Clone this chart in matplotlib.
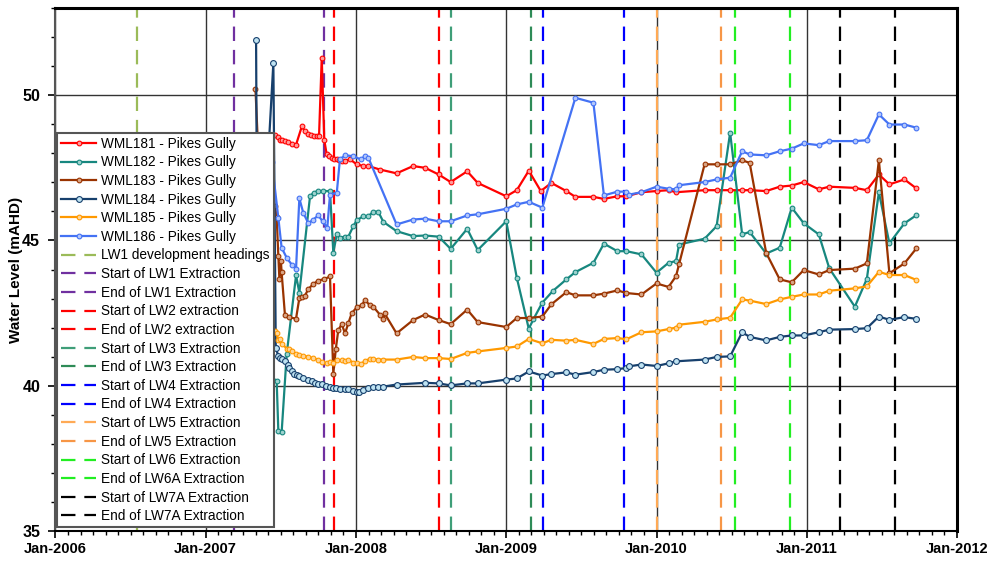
import numpy as np
import matplotlib.pyplot as plt
from matplotlib.ticker import MultipleLocator, FixedLocator, FuncFormatter

plt.rcParams['font.family'] = ['Liberation Sans', 'DejaVu Sans']

# ---- data (decimal years, water level mAHD) ----
wml181_t = [2007.36, 2007.40, 2007.44, 2007.461, 2007.48, 2007.494, 2007.51, 2007.53, 2007.55, 2007.575, 2007.60,
            2007.64, 2007.66, 2007.68, 2007.70, 2007.72, 2007.74, 2007.754, 2007.772, 2007.789, 2007.805, 2007.82,
            2007.838, 2007.855, 2007.872, 2007.89, 2007.905, 2007.93, 2007.96, 2008.005, 2008.049, 2008.082, 2008.16,
            2008.27, 2008.38, 2008.46, 2008.55, 2008.63, 2008.74, 2008.81, 2009.00, 2009.07, 2009.15, 2009.23, 2009.30,
            2009.40, 2009.46, 2009.58, 2009.65, 2009.74, 2009.80, 2009.90, 2010.00, 2010.08, 2010.13, 2010.32, 2010.40,
            2010.49, 2010.57, 2010.62, 2010.73, 2010.82, 2010.90, 2010.98, 2011.08, 2011.15, 2011.32, 2011.40, 2011.48,
            2011.55, 2011.65, 2011.73]
wml181_v = [48.55, 48.5, 48.58, 48.64, 48.55, 48.47, 48.46, 48.42, 48.38, 48.33, 48.28,
            48.93, 48.75, 48.68, 48.62, 48.60, 48.60, 48.59, 51.29, 48.45, 47.96, 47.9,
            47.85, 47.82, 47.79, 47.76, 47.73, 47.75, 47.79, 47.62, 47.56, 47.56, 47.44,
            47.31, 47.56, 47.50, 47.27, 47.01, 47.38, 46.98, 46.52, 46.73, 47.40, 46.70, 46.98,
            46.70, 46.50, 46.50, 46.43, 46.52, 46.52, 46.66, 46.70, 46.73, 46.66, 46.73, 46.73,
            46.73, 46.73, 46.73, 46.70, 46.85, 46.89, 47.01, 46.76, 46.85, 46.81, 46.73, 47.27,
            46.93, 47.10, 46.79]

wml182_t = [2007.38, 2007.472, 2007.483, 2007.505, 2007.539, 2007.601, 2007.623, 2007.694, 2007.72, 2007.749,
            2007.778, 2007.827, 2007.849, 2007.872, 2007.893, 2007.927, 2007.949, 2007.982, 2008.005, 2008.049,
            2008.082, 2008.115, 2008.148, 2008.182, 2008.27, 2008.38, 2008.46, 2008.55, 2008.63, 2008.74, 2008.81,
            2009.00, 2009.07, 2009.15, 2009.18, 2009.24, 2009.31, 2009.40, 2009.46, 2009.58, 2009.65, 2009.74,
            2009.80, 2009.90, 2010.00, 2010.08, 2010.13, 2010.15, 2010.32, 2010.40, 2010.49, 2010.57, 2010.62,
            2010.73, 2010.82, 2010.90, 2010.98, 2011.08, 2011.15, 2011.32, 2011.40, 2011.48, 2011.55, 2011.65, 2011.73]
wml182_v = [40.5, 40.17, 38.45, 38.39, 41.1, 43.8, 43.2, 46.52, 46.65, 46.7,
            46.7, 46.7, 44.58, 45.21, 45.10, 45.13, 45.13, 45.49, 45.7, 45.83,
            45.83, 45.99, 45.99, 45.64, 45.32, 45.15, 45.17, 45.13, 44.71, 45.40, 44.67,
            45.66, 43.72, 41.96, 42.28, 42.86, 43.26, 43.66, 43.91, 44.23, 44.89, 44.63,
            44.63, 44.52, 43.89, 44.23, 44.29, 44.86, 45.06, 45.49, 48.71, 45.21, 45.29,
            44.55, 44.75, 46.13, 45.59, 45.21, 44.04, 42.72, 43.68, 46.66, 44.90, 45.59, 45.87]

wml183_t = [2007.331, 2007.38, 2007.461, 2007.472, 2007.483, 2007.49, 2007.50, 2007.505, 2007.527, 2007.556,
            2007.601, 2007.623, 2007.639, 2007.66, 2007.683, 2007.716, 2007.749, 2007.789, 2007.827, 2007.849,
            2007.866, 2007.882, 2007.905, 2007.927, 2007.949, 2007.971, 2008.005, 2008.04, 2008.06, 2008.09,
            2008.115, 2008.16, 2008.182, 2008.19, 2008.27, 2008.38, 2008.46, 2008.55, 2008.63, 2008.74, 2008.81,
            2009.00, 2009.07, 2009.15, 2009.24, 2009.30, 2009.40, 2009.46, 2009.58, 2009.65, 2009.74, 2009.80,
            2009.90, 2010.00, 2010.08, 2010.13, 2010.15, 2010.32, 2010.40, 2010.49, 2010.57, 2010.62, 2010.73,
            2010.82, 2010.90, 2010.98, 2011.08, 2011.15, 2011.32, 2011.40, 2011.48, 2011.55, 2011.65, 2011.73]
wml183_v = [50.2, 44.5, 46.18, 45.8, 44.48, 43.68, 44.3, 43.9, 42.44, 42.35,
            42.31, 43.02, 43.07, 43.1, 43.33, 43.5, 43.62, 43.67, 43.76, 40.42,
            41.28, 41.91, 42.12, 41.80, 42.15, 42.49, 42.70, 42.78, 42.95, 42.78,
            42.72, 42.44, 42.28, 42.49, 41.80, 42.26, 42.45, 42.26, 42.12, 42.62, 42.19,
            42.02, 42.33, 42.33, 42.38, 42.80, 43.22, 43.11, 43.11, 43.17, 43.28, 43.19,
            43.14, 43.52, 43.40, 43.77, 44.18, 47.62, 47.62, 47.62, 47.76, 47.67, 44.57,
            43.66, 43.56, 43.98, 43.83, 43.98, 44.03, 44.21, 47.76, 43.87, 44.21, 44.73]

wml184_t = [2007.335, 2007.345, 2007.45, 2007.466, 2007.483, 2007.494, 2007.505, 2007.527, 2007.545, 2007.556,
            2007.572, 2007.59, 2007.61, 2007.623, 2007.65, 2007.683, 2007.705, 2007.73, 2007.749, 2007.772,
            2007.80, 2007.827, 2007.849, 2007.87, 2007.893, 2007.927, 2007.949, 2007.982, 2008.005, 2008.02,
            2008.049, 2008.082, 2008.115, 2008.148, 2008.182, 2008.27, 2008.46, 2008.55, 2008.63, 2008.74, 2008.81,
            2009.00, 2009.07, 2009.15, 2009.24, 2009.30, 2009.40, 2009.46, 2009.58, 2009.65, 2009.74, 2009.80,
            2009.82, 2009.90, 2010.00, 2010.08, 2010.13, 2010.32, 2010.40, 2010.49, 2010.57, 2010.62, 2010.73,
            2010.82, 2010.90, 2010.98, 2011.08, 2011.15, 2011.32, 2011.40, 2011.48, 2011.55, 2011.65, 2011.73]
wml184_v = [51.89, 41.3, 51.11, 41.31, 41.02, 40.95, 40.91, 40.85, 40.7, 40.62,
            40.5, 40.42, 40.37, 40.33, 40.25, 40.21, 40.16, 40.1, 40.07, 40.05,
            40.0, 39.95, 39.92, 39.93, 39.90, 39.88, 39.87, 39.81, 39.78, 39.80,
            39.84, 39.92, 39.95, 39.97, 39.97, 40.04, 40.10, 40.08, 40.01, 40.08, 40.08,
            40.21, 40.25, 40.49, 40.35, 40.40, 40.46, 40.38, 40.47, 40.55, 40.57, 40.61,
            40.67, 40.73, 40.68, 40.77, 40.84, 40.90, 40.99, 41.01, 41.84, 41.68, 41.56,
            41.68, 41.73, 41.73, 41.84, 41.93, 41.95, 41.98, 42.38, 42.27, 42.36, 42.30]

wml185_t = [2007.40, 2007.461, 2007.472, 2007.483, 2007.494, 2007.505, 2007.539, 2007.556, 2007.572, 2007.60,
            2007.62, 2007.65, 2007.683, 2007.716, 2007.749, 2007.772, 2007.805, 2007.827, 2007.849, 2007.872,
            2007.905, 2007.927, 2007.949, 2007.982, 2008.005, 2008.03, 2008.06, 2008.09, 2008.115, 2008.148,
            2008.182, 2008.27, 2008.38, 2008.46, 2008.55, 2008.63, 2008.74, 2008.81, 2009.00, 2009.07, 2009.15,
            2009.24, 2009.30, 2009.40, 2009.46, 2009.58, 2009.65, 2009.74, 2009.80, 2009.90, 2010.00, 2010.08,
            2010.13, 2010.15, 2010.32, 2010.40, 2010.49, 2010.57, 2010.62, 2010.73, 2010.82, 2010.90, 2010.98,
            2011.08, 2011.15, 2011.32, 2011.40, 2011.48, 2011.55, 2011.65, 2011.73]
wml185_v = [42.2, 41.9, 41.80, 41.57, 41.6, 41.45, 41.28, 41.25, 41.2, 41.09,
            41.06, 41.02, 41.0, 40.94, 40.9, 40.82, 40.77, 40.80, 40.79, 40.88,
            40.88, 40.86, 40.90, 40.79, 40.79, 40.74, 40.85, 40.92, 40.92, 40.9,
            40.9, 40.90, 40.99, 40.95, 40.95, 40.92, 41.13, 41.18, 41.30, 41.35, 41.61,
            41.46, 41.58, 41.55, 41.58, 41.44, 41.61, 41.64, 41.60, 41.84, 41.87, 41.95,
            42.00, 42.1, 42.20, 42.28, 42.34, 42.97, 42.93, 42.81, 42.97, 43.06, 43.14,
            43.14, 43.27, 43.35, 43.42, 43.92, 43.81, 43.81, 43.64]

wml186_t = [2007.36, 2007.44, 2007.483, 2007.505, 2007.539, 2007.572, 2007.601, 2007.623, 2007.649, 2007.683,
            2007.716, 2007.749, 2007.778, 2007.809, 2007.827, 2007.872, 2007.893, 2007.927, 2007.982, 2008.031,
            2008.06, 2008.082, 2008.27, 2008.38, 2008.46, 2008.55, 2008.63, 2008.74, 2008.81, 2009.00, 2009.07,
            2009.15, 2009.24, 2009.46, 2009.58, 2009.65, 2009.74, 2009.80, 2009.82, 2009.90, 2010.00, 2010.08,
            2010.13, 2010.15, 2010.32, 2010.40, 2010.49, 2010.57, 2010.62, 2010.73, 2010.82, 2010.90, 2010.98,
            2011.08, 2011.15, 2011.32, 2011.40, 2011.48, 2011.55, 2011.65, 2011.73]
wml186_v = [47.5, 47.7, 45.78, 44.75, 44.40, 44.17, 44.03, 46.45, 45.95, 45.59,
            45.72, 45.86, 45.66, 45.44, 46.58, 46.64, 47.79, 47.93, 47.90, 47.79,
            47.90, 47.85, 45.55, 45.72, 45.75, 45.66, 45.66, 45.86, 45.90, 46.09, 46.24,
            46.33, 46.13, 49.91, 49.74, 46.55, 46.68, 46.68, 46.58, 46.66, 46.85, 46.78,
            46.76, 46.90, 47.01, 47.10, 47.16, 48.07, 47.96, 47.93, 48.07, 48.16, 48.34,
            48.28, 48.42, 48.42, 48.45, 49.34, 48.99, 48.99, 48.88]

series_names = ['WML181 - Pikes Gully', 'WML182 - Pikes Gully', 'WML183 - Pikes Gully',
                'WML184 - Pikes Gully', 'WML185 - Pikes Gully', 'WML186 - Pikes Gully']
series_t = [wml181_t, wml182_t, wml183_t, wml184_t, wml185_t, wml186_t]
series_v = [wml181_v, wml182_v, wml183_v, wml184_v, wml185_v, wml186_v]
series_colors = ['#FF0000', '#17877F', '#993300', '#17406D', '#FF9900', '#4472F4']
series_faces = ['#FF9C9C', '#9ED3CF', '#D9A585', '#BFE3F2', '#FFD699', '#B4C8FB']

event_names = ['LW1 development headings', 'Start of LW1 Extraction', 'End of LW1 Extraction',
               'Start of LW2 extraction', 'End of LW2 extraction', 'Start of LW3 Extraction',
               'End of LW3 Extraction', 'Start of LW4 Extraction', 'End of LW4 Extraction',
               'Start of LW5 Extraction', 'End of LW5 Extraction', 'Start of LW6 Extraction',
               'End of LW6A Extraction', 'Start of LW7A Extraction', 'End of LW7A Extraction']
event_dates = [2006.54, 2007.19, 2007.785, 2007.855, 2008.55, 2008.63, 2009.165, 2009.245,
               2009.785, 2010.003, 2010.43, 2010.525, 2010.89, 2011.22, 2011.59]
event_colors = ['#9BBB59', '#7030A0', '#7030A0', '#FF0000', '#FF0000', '#3F9E78', '#2E8B57',
                '#0000FF', '#0000FF', '#FFAA55', '#F79646', '#22EE22', '#22EE22', '#000000', '#000000']

fig = plt.figure(figsize=(9.91, 5.61), dpi=100)
ax = fig.add_axes([0.056, 0.0535, 0.9097, 0.9322])

# vertical event lines
ev_handles = []
for d, c, name in zip(event_dates, event_colors, event_names):
    ev = ax.axvline(d, color=c, lw=1.6, linestyle=(0, (6.5, 4)), label=name, zorder=2)
    ev_handles.append(ev)

# series
handles = []
for t, v, c, fc, name in zip(series_t, series_v, series_colors, series_faces, series_names):
    ms = 4.2 if name.startswith('WML184') else 3.4
    h, = ax.plot(t, v, color=c, lw=1.6, marker='o', ms=ms, mfc=fc, mec=c, mew=0.8,
                 label=name, zorder=3)
    handles.append(h)

ax.set_xlim(2006, 2012)
ax.set_ylim(35, 53)

ax.xaxis.set_major_locator(FixedLocator(range(2006, 2013)))
ax.xaxis.set_minor_locator(MultipleLocator(1 / 12))
ax.xaxis.set_major_formatter(FuncFormatter(lambda x, p: 'Jan-%d' % round(x)))
ax.yaxis.set_major_locator(FixedLocator([35, 40, 45, 50]))
ax.yaxis.set_minor_locator(MultipleLocator(1))

ax.tick_params(axis='x', which='major', length=5, width=1.2, labelsize=10.5, pad=3)
ax.tick_params(axis='x', which='minor', length=3, width=1)
ax.tick_params(axis='y', which='major', length=5, width=1.2, labelsize=11.5, pad=6)
ax.tick_params(axis='y', which='minor', length=3, width=1)
for lab in ax.get_xticklabels() + ax.get_yticklabels():
    lab.set_fontweight('bold')

ax.grid(True, which='major', color='#333333', lw=1.0, zorder=1)
ax.set_axisbelow(True)

for side in ['top', 'right']:
    ax.spines[side].set_linewidth(2.2)
for side in ['left', 'bottom']:
    ax.spines[side].set_linewidth(1.5)
ax.spines['left'].set_color('#555555')

ax.set_ylabel('Water Level (mAHD)', fontsize=11, fontweight='bold')
ax.yaxis.set_label_coords(-0.036, 0.5)

leg = ax.legend(handles + ev_handles, series_names + event_names, loc='lower left',
                bbox_to_anchor=(0.0015, 0.007), borderaxespad=0, fontsize=9.8,
                labelspacing=0.34, handlelength=2.6, handletextpad=0.35,
                borderpad=0.3, fancybox=False, framealpha=1, edgecolor='#555555')
leg.get_frame().set_linewidth(1.5)
leg.set_zorder(10)

fig.savefig('out.png', dpi=100)
